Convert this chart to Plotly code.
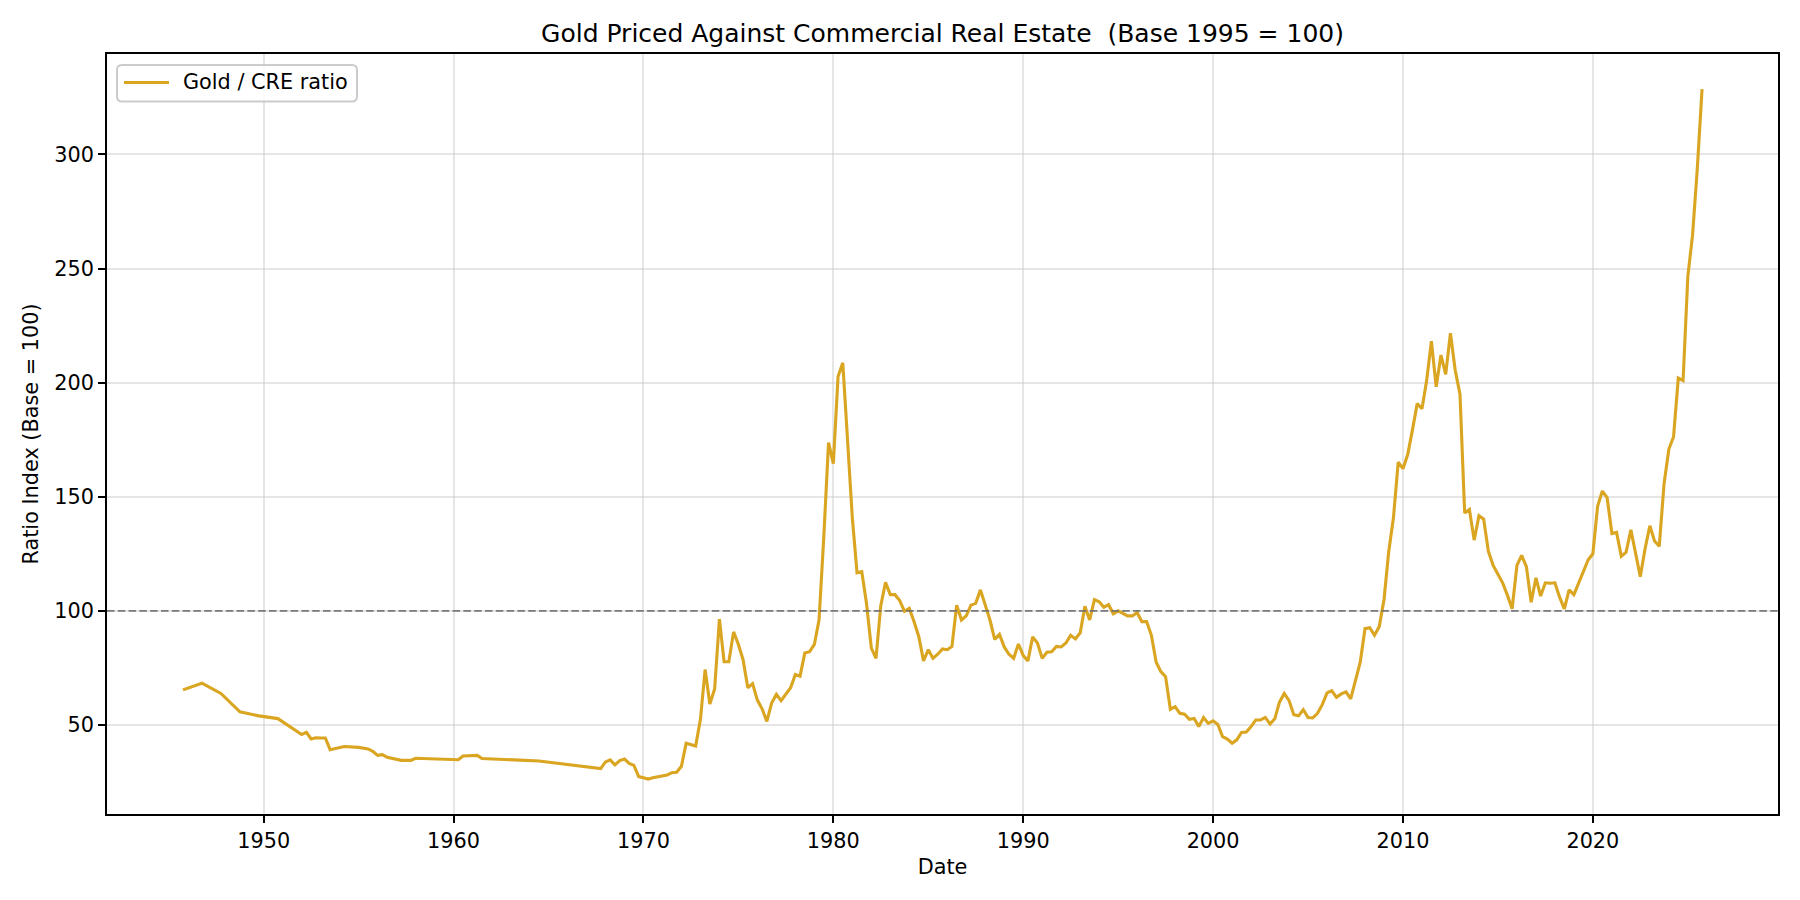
import plotly.graph_objects as go

# ---- data ----
dates = [
    "1945-10", "1946-10", "1947-10", "1948-10", "1949-10", "1950-10",
    "1952-01", "1952-04", "1952-07", "1952-10", "1953-01", "1953-04", "1953-07",
    "1954-04", "1955-01", "1955-07", "1955-10", "1956-01", "1956-04", "1956-07",
    "1957-04", "1957-10", "1958-01", "1959-01", "1960-01", "1960-04", "1960-07",
    "1961-04", "1961-07", "1962-07", "1963-07", "1964-07", "1965-07", "1966-01",
    "1966-04", "1967-04", "1967-10", "1968-01", "1968-04", "1968-07", "1968-10",
    "1969-01", "1969-04", "1969-07", "1969-10", "1970-01", "1970-04", "1970-07",
    "1971-04", "1971-07", "1971-10", "1972-01", "1972-04", "1972-10",
    "1973-01", "1973-04", "1973-07", "1973-10",
    "1974-01", "1974-04", "1974-07", "1974-10",
    "1975-01", "1975-04", "1975-07", "1975-10",
    "1976-01", "1976-04", "1976-07", "1976-10",
    "1977-01", "1977-04", "1977-07", "1977-10",
    "1978-01", "1978-04", "1978-07", "1978-10",
    "1979-01", "1979-04", "1979-07", "1979-10",
    "1980-01", "1980-04", "1980-07", "1980-10",
    "1981-01", "1981-04", "1981-07", "1981-10",
    "1982-01", "1982-04", "1982-07", "1982-10",
    "1983-01", "1983-04", "1983-07", "1983-10",
    "1984-01", "1984-04", "1984-07", "1984-10",
    "1985-01", "1985-04", "1985-07", "1985-10",
    "1986-01", "1986-04", "1986-07", "1986-10",
    "1987-01", "1987-04", "1987-07", "1987-10",
    "1988-01", "1988-04", "1988-07", "1988-10",
    "1989-01", "1989-04", "1989-07", "1989-10",
    "1990-01", "1990-04", "1990-07", "1990-10",
    "1991-01", "1991-04", "1991-07", "1991-10",
    "1992-01", "1992-04", "1992-07", "1992-10",
    "1993-01", "1993-04", "1993-07", "1993-10",
    "1994-01", "1994-04", "1994-07", "1994-10",
    "1995-01", "1995-04", "1995-07", "1995-10",
    "1996-01", "1996-04", "1996-07", "1996-10",
    "1997-01", "1997-04", "1997-07", "1997-10",
    "1998-01", "1998-04", "1998-07", "1998-10",
    "1999-01", "1999-04", "1999-07", "1999-10",
    "2000-01", "2000-04", "2000-07", "2000-10",
    "2001-01", "2001-04", "2001-07", "2001-10",
    "2002-01", "2002-04", "2002-07", "2002-10",
    "2003-01", "2003-04", "2003-07", "2003-10",
    "2004-01", "2004-04", "2004-07", "2004-10",
    "2005-01", "2005-04", "2005-07", "2005-10",
    "2006-01", "2006-04", "2006-07", "2006-10",
    "2007-01", "2007-04", "2007-07", "2007-10",
    "2008-01", "2008-04", "2008-07", "2008-10",
    "2009-01", "2009-04", "2009-07", "2009-10",
    "2010-01", "2010-04", "2010-07", "2010-10",
    "2011-01", "2011-04", "2011-07", "2011-10",
    "2012-01", "2012-04", "2012-07", "2012-10",
    "2013-01", "2013-04", "2013-07", "2013-10",
    "2014-01", "2014-04", "2014-07", "2014-10",
    "2015-01", "2015-04", "2015-07", "2015-10",
    "2016-01", "2016-04", "2016-07", "2016-10",
    "2017-01", "2017-04", "2017-07", "2017-10",
    "2018-01", "2018-04", "2018-07", "2018-10",
    "2019-01", "2019-04", "2019-07", "2019-10",
    "2020-01", "2020-04", "2020-07", "2020-10",
    "2021-01", "2021-04", "2021-07", "2021-10",
    "2022-01", "2022-04", "2022-07", "2022-10",
    "2023-01", "2023-04", "2023-07", "2023-10",
    "2024-01", "2024-04", "2024-07", "2024-10",
    "2025-01", "2025-04", "2025-07", "2025-10",
]

ratio_index = [
    65.4, 68.3, 63.8, 55.8, 54.0, 52.8,
    45.8, 46.8, 43.9, 44.4, 44.3, 44.3, 39.2,
    40.6, 40.2, 39.5, 38.5, 36.7, 37.0, 35.9,
    34.5, 34.5, 35.4, 35.1, 34.8, 34.8, 36.4,
    36.7, 35.3, 35.1, 34.6, 34.2, 33.2, 32.8,
    32.4, 31.4, 30.9, 33.8, 34.7, 32.5, 34.4,
    35.1, 33.2, 32.3, 27.4, 26.9, 26.3, 26.9,
    28.1, 29.1, 29.3, 31.9, 42.0, 40.8,
    52.5, 74.3, 59.2, 65.8,
    96.4, 77.7, 77.7, 90.8,
    85.3, 78.6, 66.3, 68.1,
    60.9, 57.1, 51.6, 59.6,
    63.4, 60.7, 63.4, 66.3,
    72.1, 71.4, 81.5, 82.1,
    85.3, 96.0, 132.1, 173.7,
    164.5, 202.7, 208.7, 173.0,
    140.6, 116.7, 117.2, 103.1,
    83.7, 79.2, 102.2, 112.5,
    107.1, 107.1, 104.5, 99.8,
    101.1, 95.3, 88.8, 78.1,
    83.0, 79.2, 81.0, 83.3,
    83.0, 84.4, 102.5, 96.0,
    97.8, 102.5, 103.3, 109.2,
    102.6, 96.0, 87.5, 89.7,
    84.2, 81.0, 79.2, 85.5,
    80.4, 78.1, 88.6, 85.9,
    79.2, 81.9, 82.1, 84.4,
    84.2, 85.9, 89.3, 87.7,
    90.4, 102.0, 96.0, 104.9,
    104.0, 101.6, 102.7, 98.7,
    100.0, 98.9, 97.8, 97.8,
    99.3, 95.3, 95.3, 89.3,
    77.5, 73.4, 71.2, 56.9,
    58.0, 55.1, 54.7, 52.5,
    52.9, 49.3, 53.3, 50.7,
    51.8, 50.2, 44.9, 43.8,
    42.0, 43.5, 46.7, 46.9,
    49.3, 52.2, 52.2, 53.3,
    50.4, 52.7, 60.0, 63.8,
    60.7, 54.5, 54.0, 56.7,
    53.3, 53.1, 55.1, 58.9,
    64.1, 65.0, 62.1, 63.6,
    64.5, 61.4, 69.2, 77.5,
    92.2, 92.6, 89.3, 93.1,
    105.0, 125.9, 140.8, 165.2,
    162.3, 168.5, 179.2, 190.8,
    188.6, 200.9, 218.2, 198.2,
    212.1, 203.6, 221.7, 205.4,
    194.9, 142.9, 144.4, 131.0,
    141.7, 140.2, 126.1, 119.9,
    116.1, 112.3, 106.9, 100.9,
    119.9, 124.3, 119.4, 103.8,
    114.5, 106.5, 112.3, 112.1,
    112.3, 106.0, 100.9, 109.2,
    107.1, 112.1, 117.2, 122.3,
    125.0, 145.8, 152.5, 149.6,
    133.9, 134.4, 123.9, 125.7,
    135.5, 125.4, 115.0, 127.2,
    137.3, 130.6, 128.3, 155.6,
    170.8, 176.3, 202.0, 200.9,
    246.7, 264.5, 293.5, 328.6,
]

base_value = 100
series_name = "Gold / CRE ratio"
title_text = "Gold Priced Against Commercial Real Estate\u00a0 (Base 1995 = 100)"
x_title = "Date"
y_title = "Ratio Index (Base = 100)"

FONT = "DejaVu Sans, Verdana, sans-serif"
GOLD = "#DAA520"
TICK_SIZE = 20.8

W, H = 1800, 900
ML, MR, MT, MB = 107, 22, 54, 86
PW, PH = W - ML - MR, H - MT - MB


def px_x(px):
    return (px - ML) / PW


def px_y(py):
    return (H - MB - py) / PH


fig = go.Figure()
fig.add_trace(go.Scatter(
    x=dates, y=ratio_index, mode="lines", name=series_name,
    line=dict(color=GOLD, width=3.1), showlegend=False,
))

fig.add_shape(
    type="line", xref="paper", yref="y", x0=0, x1=1, y0=base_value, y1=base_value,
    line=dict(color="rgba(110,110,110,0.9)", width=1.6, dash="7.5px,3.3px"),
    layer="above",
)

# legend box (matplotlib-style, rounded corners) drawn in paper coordinates
bx0, bx1, by0, by1, r = 117, 357, 65, 101.5, 5
path = (
    f"M {px_x(bx0 + r)},{px_y(by0)} L {px_x(bx1 - r)},{px_y(by0)} "
    f"Q {px_x(bx1)},{px_y(by0)} {px_x(bx1)},{px_y(by0 + r)} "
    f"L {px_x(bx1)},{px_y(by1 - r)} "
    f"Q {px_x(bx1)},{px_y(by1)} {px_x(bx1 - r)},{px_y(by1)} "
    f"L {px_x(bx0 + r)},{px_y(by1)} "
    f"Q {px_x(bx0)},{px_y(by1)} {px_x(bx0)},{px_y(by1 - r)} "
    f"L {px_x(bx0)},{px_y(by0 + r)} "
    f"Q {px_x(bx0)},{px_y(by0)} {px_x(bx0 + r)},{px_y(by0)} Z"
)
fig.add_shape(
    type="path", xref="paper", yref="paper", path=path,
    line=dict(color="rgba(204,204,204,1)", width=2),
    fillcolor="rgba(255,255,255,0.8)", layer="above",
)
fig.add_shape(
    type="line", xref="paper", yref="paper",
    x0=px_x(124), x1=px_x(169), y0=px_y(82.5), y1=px_y(82.5),
    line=dict(color=GOLD, width=3.1), layer="above",
)
fig.add_annotation(
    xref="paper", yref="paper", x=px_x(181), y=px_y(82.5),
    xanchor="left", yanchor="middle", text=series_name, showarrow=False,
    font=dict(family=FONT, size=20.8, color="black"),
)

fig.update_layout(
    width=W, height=H, autosize=False,
    margin=dict(l=ML, r=MR, t=MT, b=MB, pad=0, autoexpand=False),
    paper_bgcolor="white", plot_bgcolor="white",
    font=dict(family=FONT, size=TICK_SIZE, color="black"),
    title=dict(
        text=title_text, x=(ML + W - MR) / 2 / W, xanchor="center",
        y=1 - 33 / H, yanchor="middle", yref="container",
        font=dict(family=FONT, size=25, color="black"),
    ),
    showlegend=False,
)

fig.update_xaxes(
    type="date", automargin=False,
    range=["1941-10-01", "2029-10-01"],
    tick0="1950-01-01", dtick="M120", tickformat="%Y",
    showgrid=True, gridcolor="rgba(200,200,200,0.45)", gridwidth=1.6,
    showline=True, linecolor="black", linewidth=1.6, mirror=True,
    ticks="outside", ticklen=7, tickwidth=1.6, tickcolor="black",
    tickfont=dict(family=FONT, size=TICK_SIZE, color="black"),
    title=dict(text=x_title, font=dict(family=FONT, size=TICK_SIZE, color="black"), standoff=8),
    zeroline=False,
)
fig.update_yaxes(
    automargin=False,
    range=[11, 344],
    tickvals=[50, 100, 150, 200, 250, 300],
    showgrid=True, gridcolor="rgba(200,200,200,0.45)", gridwidth=1.6,
    showline=True, linecolor="black", linewidth=1.6, mirror=True,
    ticks="outside", ticklen=7, tickwidth=1.6, tickcolor="black",
    tickfont=dict(family=FONT, size=TICK_SIZE, color="black"),
    title=dict(text=y_title, font=dict(family=FONT, size=TICK_SIZE, color="black"), standoff=10),
    zeroline=False,
)

fig.write_html("out.html")
